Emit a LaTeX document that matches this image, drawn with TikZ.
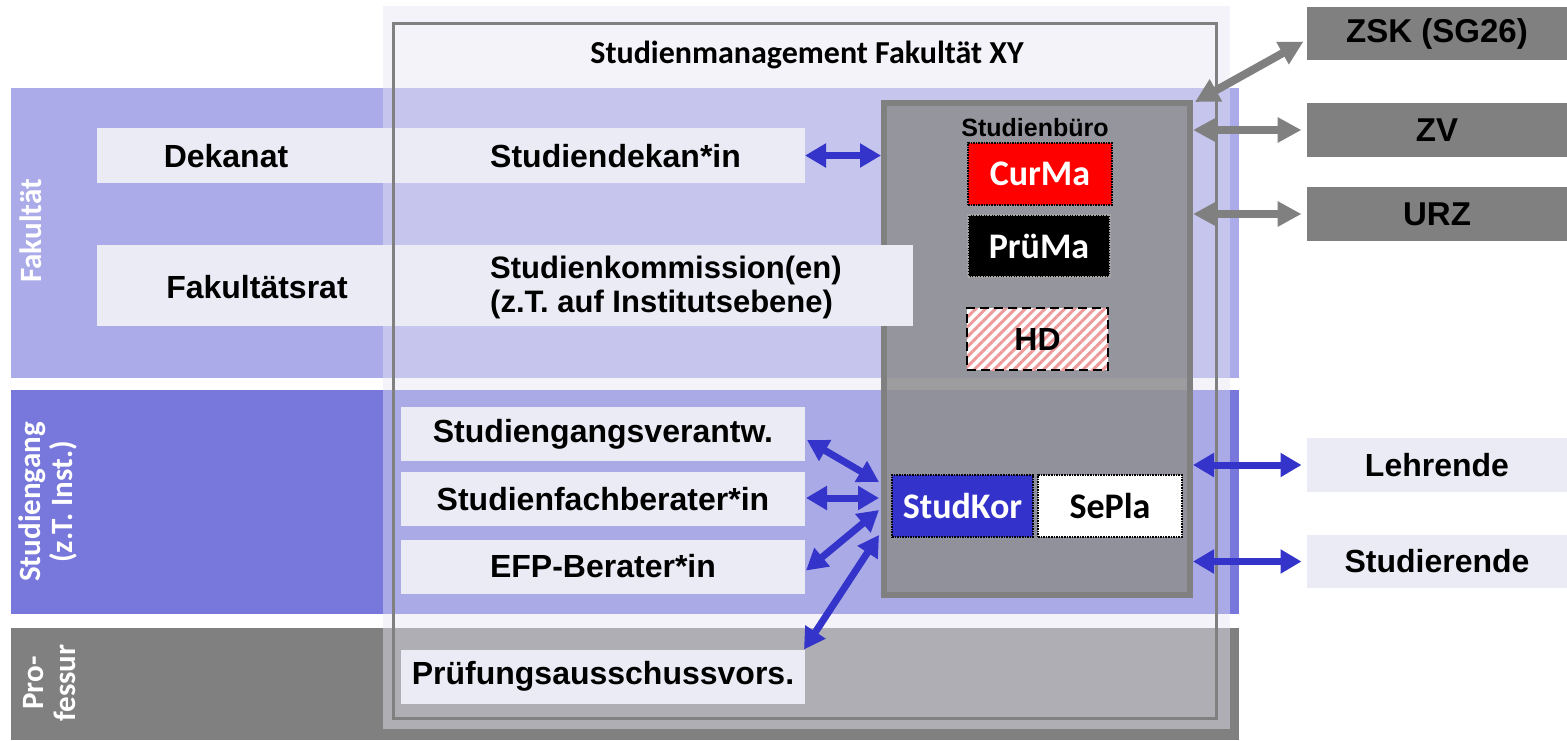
\documentclass[tikz,border=0pt]{standalone}
\usepackage{fontspec}
\setmainfont{Liberation Sans}
\newfontfamily\carlitofam{Carlito}
\usetikzlibrary{arrows.meta,patterns.meta,calc}
\definecolor{fakband}{HTML}{ABABE9}
\definecolor{sgband}{HTML}{7878DC}
\definecolor{profband}{HTML}{808080}
\definecolor{overlaycol}{RGB}{229,229,242}
\definecolor{barfill}{HTML}{EBEBF5}
\definecolor{framegray}{HTML}{808080}
\definecolor{buerofill}{RGB}{140,140,142}
\definecolor{arrowblue}{HTML}{3434CA}
\definecolor{curred}{HTML}{FF0000}
\definecolor{korblue}{HTML}{3333CC}
\definecolor{hatchcol}{HTML}{EE9A9A}
\begin{document}
\begin{tikzpicture}[x=1pt,y=-1pt,
  atext/.style={inner sep=0pt, text=black, font=\fontsize{32}{35}\selectfont\bfseries},
  btext/.style={inner sep=0pt, text=white, font=\carlitofam\fontsize{31}{32}\selectfont\bfseries},
  bar/.style={rectangle, fill=barfill, inner sep=0pt, outer sep=0pt, text=black, font=\fontsize{32}{35}\selectfont\bfseries},
  extbox/.style={rectangle, fill=framegray, inner sep=0pt, outer sep=0pt, minimum width=261, minimum height=54, text=black, font=\fontsize{33}{36}\selectfont\bfseries},
  peoplebox/.style={extbox, fill=barfill, font=\fontsize{32}{35}\selectfont\bfseries},
  unitbox/.style={rectangle, inner sep=0pt, outer sep=0pt, minimum height=62, line width=1.6pt, densely dotted, draw=black, font=\carlitofam\fontsize{36}{38}\selectfont\bfseries},
  barrow/.style={draw=arrowblue, line width=7pt, >={Triangle[length=21pt,width=23pt]}, <->},
  garrow/.style={draw=framegray, line width=8pt, >={Triangle[length=24pt,width=24pt]}, <->}
]
\useasboundingbox (0,0) rectangle (1567,740);
\fill[white] (0,0) rectangle (1567,740);
% bands
\fill[fakband] (11,88) rectangle (1239,378);
\fill[sgband] (11,390) rectangle (1239,614);
\fill[profband] (11,628) rectangle (1239,740);
% overlay of Studienmanagement
\fill[overlaycol, fill opacity=0.46] (383,6) rectangle (1230,729);
% bars
\node[bar, minimum width=708, minimum height=55] (dekbar) at (451,155.5) {};
\node[bar, minimum width=404, minimum height=54] (sgv) at (603,434) {Studiengangsverantw.};
\node[bar, minimum width=404, minimum height=54] (sfb) at (603,499) {Studienfachberater*in};
\node[bar, minimum width=404, minimum height=54] (efp) at (603,566.5) {EFP-Berater*in};
\node[bar, minimum width=404, minimum height=54] (pav) at (603,676.5) {Prüfungsausschussvors.};
% Studienbuero
\node[draw=framegray, line width=6pt, fill=buerofill, fill opacity=0.83, minimum width=306, minimum height=492, inner sep=0pt] (buero) at (1037,349) {};
\node[atext, font=\fontsize{25}{28}\selectfont\bfseries] (bueroname) at (1035,128) {Studienbüro};
\node[unitbox, fill=curred, text=white, minimum width=144] (curma) at (1040,174) {CurMa};
\node[unitbox, fill=black, draw=gray!70, text=white, minimum width=142] (pruema) at (1039,246) {PrüMa};
\node[unitbox, preaction={fill=white}, pattern={Lines[angle=45,distance=7pt,line width=3pt]}, pattern color=hatchcol, solid, dash pattern=on 9pt off 5pt, line width=2pt, minimum width=141, text=black, font=\fontsize{32}{35}\selectfont\bfseries] (hd) at (1037.5,339) {HD};
\node[unitbox, fill=korblue, text=white, minimum width=141] (studkor) at (962.5,506) {StudKor};
\node[unitbox, fill=white, text=black, minimum width=144] (sepla) at (1110,506) {SePla};
% Fakultaetsrat bar lies on top of the Studienbuero
\node[bar, minimum width=816, minimum height=81] (ratbar) at (505,285.5) {};
% frame
\draw[framegray, line width=3pt] (393,23) rectangle (1216,718);
% texts
\node[atext] (dekanat) at (226,156) {Dekanat};
\node[atext, anchor=west] (studiendekan) at (490,156) {Studiendekan*in};
\node[atext] (fakrat) at (257,287) {Fakultätsrat};
\node[atext, anchor=west, align=left, font=\fontsize{31}{34}\selectfont\bfseries] (studkomm) at (490,287) {Studienkommission(en)\\(z.T. auf Institutsebene)};
\node[atext, font=\carlitofam\fontsize{32}{34}\selectfont\bfseries] (title) at (807,55) {Studienmanagement Fakultät XY};
% band labels
\node[btext, rotate=90] (fak) at (31,231) {Fakultät};
\node[btext, rotate=90, align=center] (sg) at (48,502) {Studiengang\\(z.T. Inst.)};
\node[btext, rotate=90, align=center] (prof) at (50,683) {Pro-\\fessur};
% external boxes
\node[extbox, minimum height=53] (zsk) at (1437,33.5) {ZSK (SG26)};
\node[extbox] (zv) at (1437,130) {ZV};
\node[extbox] (urz) at (1437,214) {URZ};
\node[peoplebox] (lehrende) at (1437,465) {Lehrende};
\node[peoplebox, minimum height=53] (studierende) at (1437,561.5) {Studierende};
% arrows
\draw[garrow] ($(buero.north east)+(2,2)$) -- ($(zsk.west)+(-3,8)$);
\draw[garrow] (buero.east |- zv.west) -- ($(zv.west)+(-5,0)$);
\draw[garrow] (buero.east |- urz.west) -- ($(urz.west)+(-5,0)$);
\draw[barrow] (dekbar.east) -- (buero.west |- dekbar.east);
\draw[barrow] (buero.east |- lehrende.west) -- ($(lehrende.west)+(-5,0)$);
\draw[barrow] (buero.east |- studierende.west) -- ($(studierende.west)+(-5,0)$);
\draw[barrow] ($(sgv.east)+(2,6)$) -- ($(buero.west)+(-2,133)$);
\draw[barrow] ($(sfb.east)+(1,-1)$) -- ($(buero.west)+(-2,149)$);
\draw[barrow] ($(efp.east)+(1,4)$) -- ($(buero.west)+(-2,161)$);
\draw[barrow] ($(pav.north east)+(-1,0)$) -- ($(buero.west)+(-2,186)$);
\end{tikzpicture}
\end{document}
